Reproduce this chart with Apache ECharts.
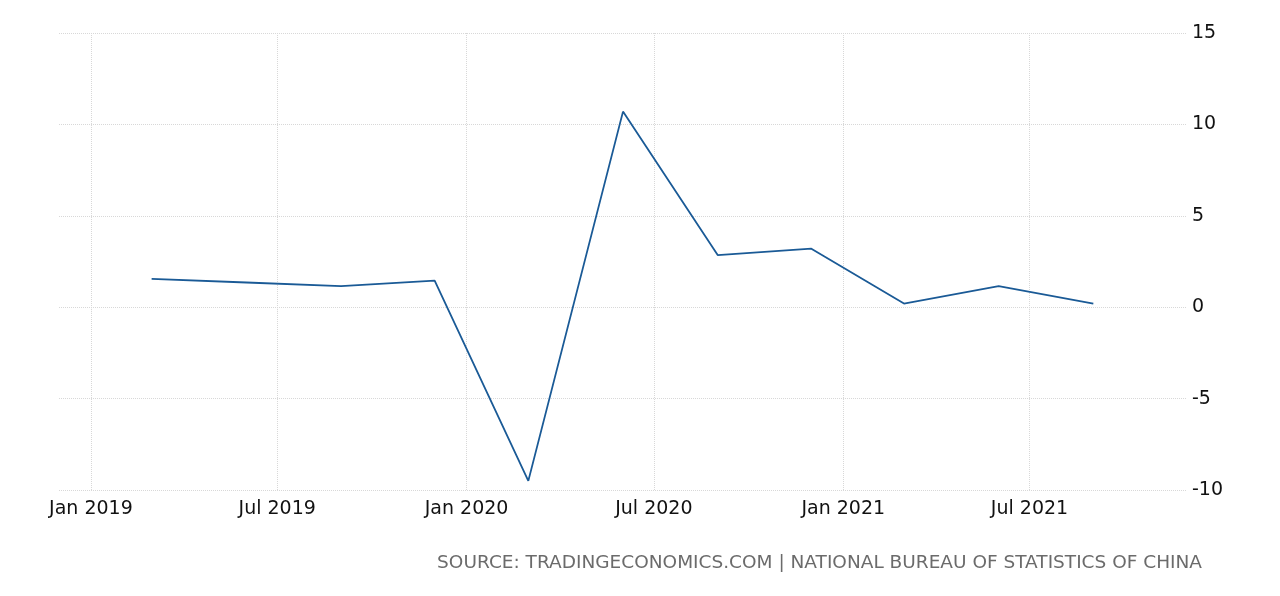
<!DOCTYPE html>
<html>
<head>
<meta charset="utf-8">
<script src="https://cdn.jsdelivr.net/npm/echarts@6/dist/echarts.min.js"></script>
<style>
  html, body { margin: 0; padding: 0; background: #fff; }
  #main { width: 1280px; height: 596px; }
</style>
</head>
<body>
<div id="main"></div>
<script>
// quarterly GDP growth, plotted at first day of quarter-end month
var dates = ['2019-03-01', '2019-06-01', '2019-09-01', '2019-12-01',
             '2020-03-01', '2020-06-01', '2020-09-01', '2020-12-01',
             '2021-03-01', '2021-06-01', '2021-09-01'];
var values = [1.55, 1.35, 1.15, 1.45, -9.5, 10.7, 2.85, 3.2, 0.2, 1.15, 0.2];
var tickDates = ['2019-01-01', '2019-07-01', '2020-01-01', '2020-07-01', '2021-01-01', '2021-07-01'];
var monthNames = ['Jan', 'Feb', 'Mar', 'Apr', 'May', 'Jun', 'Jul', 'Aug', 'Sep', 'Oct', 'Nov', 'Dec'];
var sourceText = 'SOURCE: TRADINGECONOMICS.COM | NATIONAL BUREAU OF STATISTICS OF CHINA';

function ts(d) { return +new Date(d + 'T00:00:00'); }

var chart = echarts.init(document.getElementById('main'));
var tickVals = tickDates.map(ts);
var fontName = '"DejaVu Sans", sans-serif';

var option = {
  animation: false,
  grid: {
    left: 59,
    right: 93,
    top: 33,
    bottom: 106
  },
  xAxis: {
    type: 'value',
    min: ts('2018-12-01'),
    max: ts('2021-12-01'),
    axisLine: { show: false },
    axisTick: {
      show: true,
      length: 6,
      customValues: tickVals,
      lineStyle: { color: '#d8d8d8', type: 'dotted' }
    },
    splitLine: {
      show: true,
      lineStyle: { color: '#d8d8d8', type: 'dotted' }
    },
    axisLabel: {
      customValues: tickVals,
      margin: 10,
      color: '#111',
      fontSize: 19,
      fontFamily: fontName,
      formatter: function (v) {
        var d = new Date(v);
        return monthNames[d.getMonth()] + ' ' + d.getFullYear();
      }
    }
  },
  yAxis: {
    type: 'value',
    position: 'right',
    min: -10,
    max: 15,
    interval: 5,
    axisLine: { show: false },
    axisTick: { show: false },
    splitLine: {
      show: true,
      lineStyle: { color: '#d8d8d8', type: 'dotted' }
    },
    axisLabel: {
      margin: 5,
      color: '#111',
      fontSize: 19,
      fontFamily: fontName,
      padding: [8, 0, 0, 0]
    }
  },
  series: [{
    type: 'line',
    data: dates.map(function (d, i) { return [ts(d), values[i]]; }),
    showSymbol: false,
    lineStyle: { color: '#1a5a96', width: 1.8 },
    itemStyle: { color: '#1a5a96' }
  }],
  graphic: [{
    type: 'text',
    right: 78,
    top: 554,
    style: {
      text: sourceText,
      fill: '#6b6b6b',
      fontSize: 18.5,
      fontFamily: fontName
    }
  }]
};
chart.setOption(option);
</script>
</body>
</html>
